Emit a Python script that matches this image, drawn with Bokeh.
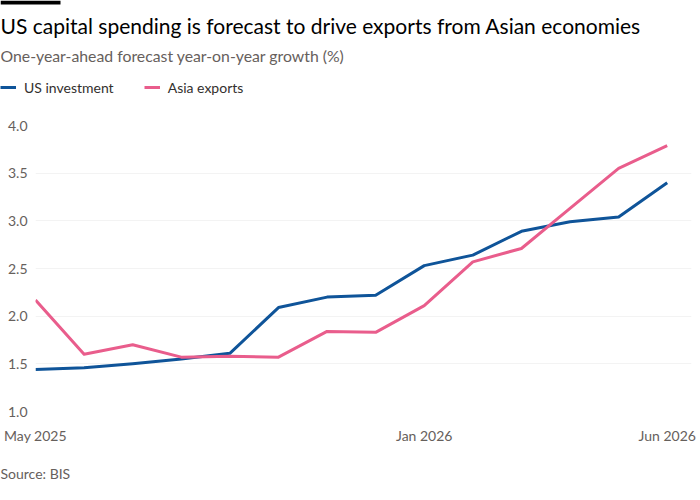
from bokeh.plotting import figure
from bokeh.layouts import column
from bokeh.models import (Range1d, FixedTicker, Legend, LegendItem, Label,
                          BoxAnnotation, PrintfTickFormatter)
from bokeh.embed import file_html
from bokeh.resources import INLINE

# ---- data ----
months = ["2025-05", "2025-06", "2025-07", "2025-08", "2025-09", "2025-10",
          "2025-11", "2025-12", "2026-01", "2026-02", "2026-03", "2026-04",
          "2026-05", "2026-06"]
us_investment = [1.44, 1.46, 1.50, 1.55, 1.61, 2.09, 2.20, 2.22, 2.53, 2.64,
                 2.89, 2.99, 3.04, 3.40]
asia_exports = [2.17, 1.60, 1.70, 1.57, 1.58, 1.57, 1.84, 1.83, 2.11, 2.57,
                2.71, 3.13, 3.55, 3.79]
series_names = ["US investment", "Asia exports"]
x_tick_labels = {0: "May 2025", 8: "Jan 2026", 13: "Jun 2026"}
y_ticks = [1.0, 1.5, 2.0, 2.5, 3.0, 3.5, 4.0]

title = "US capital spending is forecast to drive exports from Asian economies"
subtitle = "One-year-ahead forecast year-on-year growth (%)"
source = "Source: BIS"

FONT = "Lato"
BLUE = "#0F5499"
PINK = "#E95D8C"
GREY = "#66605C"
W = 700
NAN = float("nan")

xs = list(range(len(months)))


def no_align(f):
    try:
        f.frame_align = False
    except Exception:
        pass


def blank(height):
    f = figure(width=W, height=height, output_backend="svg",
               toolbar_location=None, x_axis_type=None, y_axis_type=None,
               x_range=Range1d(0, W), y_range=Range1d(height, 0),
               min_border=0, min_border_left=0, min_border_right=0,
               min_border_top=0, min_border_bottom=0,
               background_fill_color="white", border_fill_color="white")
    f.outline_line_color = None
    f.xgrid.visible = False
    f.ygrid.visible = False
    no_align(f)
    return f


def text(f, s, x, y, size, color):
    f.add_layout(Label(x=x, y=y, text=s, text_font=FONT, text_font_size=size,
                       text_color=color, text_baseline="middle",
                       text_align="left"))


# ---- header: title, subtitle, legend ----
HH = 110
head = blank(HH)
head.add_layout(BoxAnnotation(left=0, right=60, top=0, bottom=4,
                              fill_color="black", fill_alpha=1,
                              line_color=None))
text(head, title, 0, 25, "21px", "#000000")
text(head, subtitle, 0, 55, "15.8px", GREY)
# legend proxies (no visible data, only give the legend its line style)
h1 = head.line(x=[NAN], y=[NAN], line_color=BLUE, line_width=3)
h2 = head.line(x=[NAN], y=[NAN], line_color=PINK, line_width=3)
legend = Legend(items=[LegendItem(label=series_names[0], renderers=[h1]),
                       LegendItem(label=series_names[1], renderers=[h2])],
                orientation="horizontal", location=(0, HH - 97),
                glyph_width=16, glyph_height=20, label_standoff=8,
                spacing=30, padding=0, margin=0,
                label_text_font=FONT, label_text_font_size="14px",
                label_text_color="#33302E", label_height=20,
                background_fill_alpha=0, border_line_alpha=0)
head.add_layout(legend)

# ---- main chart ----
MH = 340
FL, FR, FT, FB = 35, 691, 15, 301  # frame edges within main figure
p = figure(width=W, height=MH, output_backend="svg", toolbar_location=None,
           x_range=Range1d(0, 13.5), y_range=Range1d(1.0, 4.0),
           min_border_left=FL, min_border_right=W - FR,
           min_border_top=FT, min_border_bottom=MH - FB,
           background_fill_color="white", border_fill_color="white")
p.outline_line_color = None
no_align(p)

p.line(xs, us_investment, line_color=BLUE, line_width=3, line_join="round")
p.line(xs, asia_exports, line_color=PINK, line_width=3, line_join="round")

p.xaxis.ticker = FixedTicker(ticks=list(x_tick_labels.keys()))
p.xaxis.major_label_overrides = {k: v for k, v in x_tick_labels.items()}
p.xaxis.axis_line_color = None
p.xaxis.major_tick_line_color = None
p.xaxis.minor_tick_line_color = None
p.xaxis.major_tick_out = 0
p.xaxis.minor_tick_out = 0
p.xaxis.major_label_standoff = 15
p.xaxis.major_label_text_font = FONT
p.xaxis.major_label_text_font_size = "14px"
p.xaxis.major_label_text_color = GREY

p.yaxis.ticker = FixedTicker(ticks=y_ticks)
p.yaxis.formatter = PrintfTickFormatter(format="%.1f")
p.yaxis.axis_line_color = None
p.yaxis.major_tick_line_color = None
p.yaxis.minor_tick_line_color = None
p.yaxis.major_tick_out = 0
p.yaxis.minor_tick_out = 0
p.yaxis.major_label_standoff = 8
p.yaxis.major_label_text_font = FONT
p.yaxis.major_label_text_font_size = "14px"
p.yaxis.major_label_text_color = GREY

p.xgrid.grid_line_color = None
p.ygrid.grid_line_color = "#F3F3F3"
p.ygrid.grid_line_width = 1

# ---- footer ----
FH = 50
foot = blank(FH)
text(foot, source, 0, 23, "14px", GREY)

layout = column(head, p, foot, spacing=0)
open("out.html", "w").write(file_html(layout, INLINE))
